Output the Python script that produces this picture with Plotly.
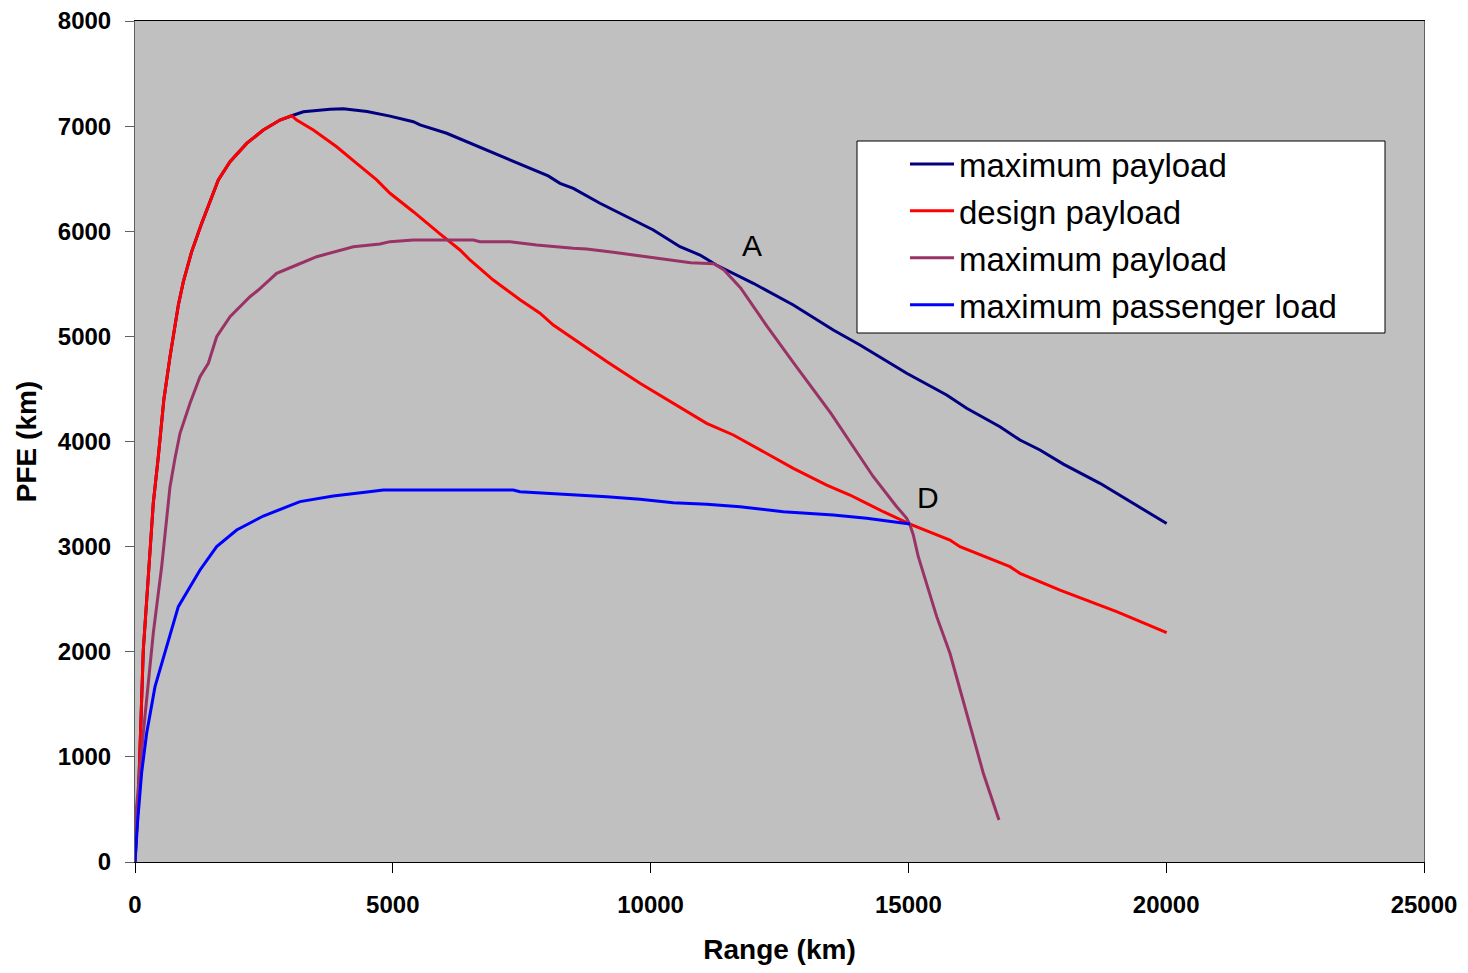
import plotly.graph_objects as go

# shared rising branch (maximum payload and design payload coincide here)
rise_range = [0, 64, 161, 355, 452, 560, 679, 841, 938, 1099, 1293, 1422, 1616, 1843, 2166, 2489, 2812, 3039]
rise_pfe = [0, 590, 2017, 3415, 3856, 4400, 4807, 5298, 5520, 5806, 6075, 6234, 6488, 6662, 6836, 6963, 7058, 7099]

# maximum payload (navy) beyond the shared branch
maxpay_range = [3265, 3782, 4040, 4500, 4946, 5398, 5528, 6045, 6691, 7338, 8014, 8243, 8501, 9018, 9406,
                10053, 10570, 10958, 11275, 11992, 12768, 13543, 14061, 14967, 15742, 16130, 16776, 17164,
                17552, 18005, 18716, 20009]
maxpay_pfe = [7137, 7160, 7165, 7140, 7095, 7042, 7011, 6932, 6799, 6671, 6526, 6456, 6408, 6266, 6171,
              6012, 5853, 5774, 5679, 5505, 5298, 5061, 4918, 4649, 4442, 4316, 4141, 4014,
              3919, 3785, 3602, 3220]

# design payload (red) beyond the shared branch
design_range = [3136, 3459, 3911, 4299, 4687, 4946, 5398, 5915, 6303, 6497, 6949, 7467, 7855, 8113, 8630,
                9148, 9794, 10440, 11087, 11605, 12251, 12768, 13415, 13867, 14190, 14513, 15031, 15806,
                16000, 16970, 17164, 17940, 19039, 20009]
design_pfe = [7058, 6963, 6804, 6646, 6488, 6361, 6186, 5975, 5822, 5727, 5536, 5348, 5221, 5108, 4934,
              4760, 4554, 4363, 4173, 4062, 3888, 3745, 3586, 3491, 3412, 3332, 3215, 3063,
              3000, 2809, 2746, 2587, 2381, 2181]

# maximum payload (second case, purple)
maxpay2_range = [0, 13, 161, 355, 517, 679, 776, 873, 1067, 1261, 1422, 1584, 1843, 2230, 2392, 2747, 3136,
                 3524, 4235, 4752, 4946, 5398, 6562, 6691, 7273, 7789, 8501, 8759, 9277, 9924, 10777, 11229,
                 11423, 11746, 12263, 12780, 13498, 14015, 14320, 14773, 14967, 15031, 15095, 15192, 15549,
                 15806, 16453, 16757]
maxpay2_pfe = [0, 431, 1227, 2178, 2809, 3570, 3840, 4078, 4363, 4617, 4744, 4997, 5187, 5377, 5441, 5600, 5679,
               5758, 5853, 5879, 5901, 5917, 5917, 5901, 5901, 5869, 5838, 5831, 5800, 5758, 5701, 5690,
               5631, 5460, 5092, 4744, 4268, 3888, 3665, 3380, 3269, 3206, 3111, 2904, 2334,
               1985, 844, 400]

# maximum passenger load (blue)
pax_range = [0, 50, 129, 226, 388, 615, 840, 1261, 1584, 1972, 2489, 3200, 3846, 4500, 4816, 5915, 7338, 7467,
             8113, 8630, 9148, 9794, 10440, 11087, 11734, 12574, 13543, 14190, 14643, 15031]
pax_pfe = [0, 380, 850, 1224, 1668, 2048, 2429, 2778, 3000, 3158, 3291, 3428, 3482, 3520, 3539, 3539, 3539, 3523,
           3507, 3491, 3475, 3450, 3418, 3402, 3380, 3332, 3301, 3269, 3237, 3215]

names = ["maximum payload", "design payload", "maximum payload", "maximum passenger load"]
colors = ["#000080", "#FF0000", "#993366", "#0000FF"]

labels = ["A", "D"]
label_range = [11966, 15380]
label_pfe = [5860, 3463]

series = [
    (rise_range + maxpay_range, rise_pfe + maxpay_pfe),
    (rise_range + design_range, rise_pfe + design_pfe),
    (maxpay2_range, maxpay2_pfe),
    (pax_range, pax_pfe),
]

FONT = "Liberation Sans, Arial, sans-serif"

# page body has an 8px margin, so the figure is drawn 8px in from the window edge
OFF = 8
W, H = 1468 - 2 * OFF, 973 - 2 * OFF
PL, PR, PT, PB = 135 - OFF, 1424 - OFF, 21 - OFF, 862 - OFF
pw, ph = PR - PL, PB - PT


def px(xp):
    return (xp - OFF - PL) / pw


def py(yp):
    return (PB - (yp - OFF)) / ph


fig = go.Figure()
for i, ((xs, ys), nm, c) in enumerate(zip(series, names, colors)):
    fig.add_trace(go.Scatter(x=xs, y=ys, mode="lines", name=nm, legendgroup=f"g{i}",
                             line=dict(color=c, width=3)))

for t, xv, yv in zip(labels, label_range, label_pfe):
    fig.add_annotation(x=xv, y=yv, text=t, showarrow=False,
                       font=dict(family=FONT, size=30, color="black"))

# legend frame
fig.add_shape(type="rect", xref="paper", yref="paper",
              x0=px(857), x1=px(1385), y0=py(333), y1=py(141),
              fillcolor="white", line=dict(color="black", width=1), layer="above")

fig.update_layout(
    width=W, height=H,
    margin=dict(l=PL, r=W - PR, t=PT, b=H - PB, autoexpand=False),
    paper_bgcolor="white",
    plot_bgcolor="#C0C0C0",
    font=dict(family=FONT, color="black"),
    showlegend=True,
    legend=dict(x=px(905), y=py(136), xanchor="left", yanchor="top",
                bgcolor="rgba(0,0,0,0)", borderwidth=0,
                font=dict(family=FONT, size=33, color="black"),
                itemwidth=44, tracegroupgap=1),
    xaxis=dict(range=[0, 25000], dtick=5000, tick0=0, tickformat="d",
               showgrid=False, zeroline=False, automargin=False,
               showline=True, linecolor="black", linewidth=1, mirror=True,
               ticks="outside", ticklen=10, tickcolor="black",
               tickfont=dict(family=FONT, size=24, color="black", weight="bold"),
               ticklabelstandoff=11, ticklabeloverflow="allow",
               title=dict(text="<b>Range (km)</b>", font=dict(family=FONT, size=28, color="black"),
                          standoff=22)),
    yaxis=dict(range=[0, 8000], dtick=1000, tick0=0, tickformat="d",
               showgrid=False, zeroline=False, automargin=False,
               showline=True, linecolor="#606060", linewidth=1, mirror=True,
               ticks="outside", ticklen=9, tickcolor="#606060",
               tickfont=dict(family=FONT, size=24, color="black", weight="bold"),
               ticklabelstandoff=9, ticklabeloverflow="allow",
               title=dict(text="<b>PFE (km)</b>", font=dict(family=FONT, size=28, color="black"),
                          standoff=13)),
)

fig.write_html("out.html")
